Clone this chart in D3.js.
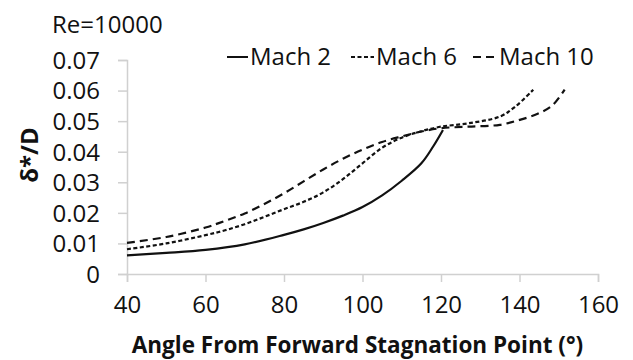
<!DOCTYPE html>
<html>
<head>
<meta charset="utf-8">
<script src="https://cdn.jsdelivr.net/npm/d3@7"></script>
<style>
  body { margin: 0; background: #fff; }
  svg text { font-family: "Open Sans", "DejaVu Sans", sans-serif; fill: #111; }
</style>
</head>
<body>
<svg id="chart" width="633" height="360"></svg>
<script>
// --- Data ---
const seriesNames = ["Mach 2", "Mach 6", "Mach 10"];

const mach2Angle = [40, 50, 60, 70, 80, 85, 90, 95, 100, 105, 110, 115, 118, 120.5];
const mach2Value = [0.0061, 0.0069, 0.0079, 0.0097, 0.0128, 0.0146, 0.0167, 0.0191, 0.0219, 0.0257, 0.0305, 0.0362, 0.0417, 0.0471];

const mach6Angle = [40, 50, 60, 65, 70, 75, 80, 85, 90, 95, 100, 105, 110, 115, 120, 127, 135, 139, 143.5];
const mach6Value = [0.0081, 0.0100, 0.0127, 0.0143, 0.0163, 0.0187, 0.0212, 0.0236, 0.0267, 0.0310, 0.0362, 0.0413, 0.0446, 0.0467, 0.0482, 0.0493, 0.0515, 0.0548, 0.0603];

const mach10Angle = [40, 50, 60, 65, 70, 75, 80, 85, 90, 95, 100, 105, 110, 115, 120, 127, 135, 140, 145, 148.5, 151.5];
const mach10Value = [0.0102, 0.0121, 0.0152, 0.0174, 0.0198, 0.0229, 0.0264, 0.0303, 0.0342, 0.0377, 0.0407, 0.0432, 0.0450, 0.0466, 0.0477, 0.0482, 0.0488, 0.0504, 0.0526, 0.0553, 0.0603];

const xTicks = [40, 60, 80, 100, 120, 140, 160];
const yTicks = [0, 0.01, 0.02, 0.03, 0.04, 0.05, 0.06, 0.07];

// --- Layout ---
const width = 633, height = 360;
const margin = { top: 60, right: 35, bottom: 86, left: 127 };
const innerW = width - margin.left - margin.right;
const innerH = height - margin.top - margin.bottom;

const svg = d3.select('#chart');
const g = svg.append('g').attr('transform', `translate(${margin.left},${margin.top})`);

const x = d3.scaleLinear().domain([40, 160]).range([0, innerW]);
const y = d3.scaleLinear().domain([0, 0.07]).range([innerH, 0]);

const axisColor = '#d0d0d0';

// Axes
const xAxis = g.append('g')
    .attr('transform', `translate(0,${innerH})`)
    .call(d3.axisBottom(x).tickValues(xTicks).tickSize(8).tickPadding(14).tickFormat(d3.format('d')));
const yAxis = g.append('g')
    .call(d3.axisLeft(y).tickValues(yTicks).tickSize(9).tickPadding(18)
        .tickFormat(d => d === 0 ? '0' : d3.format('.2f')(d)));

[xAxis, yAxis].forEach(a => {
    a.select('.domain').attr('stroke', axisColor).attr('stroke-width', 1.5);
    a.selectAll('.tick line').attr('stroke', axisColor).attr('stroke-width', 1.5);
    a.selectAll('.tick text')
        .style('font-family', '"Open Sans", sans-serif')
        .style('font-size', '24px')
        .attr('fill', '#111');
});
yAxis.selectAll('.tick text').attr('dy', '0.35em');
xAxis.selectAll('.tick text').attr('dy', '0.71em');

// Series
const series = [
    { name: seriesNames[0], angle: mach2Angle, value: mach2Value, dash: null },
    { name: seriesNames[1], angle: mach6Angle, value: mach6Value, dash: '4,2.5' },
    { name: seriesNames[2], angle: mach10Angle, value: mach10Value, dash: '8,5' }
];

const line = d3.line()
    .x(d => x(d[0]))
    .y(d => y(d[1]))
    .curve(d3.curveCatmullRom.alpha(0.5));

series.forEach(s => {
    const pts = s.angle.map((a, i) => [a, s.value[i]]);
    g.append('path')
        .datum(pts)
        .attr('fill', 'none')
        .attr('stroke', '#111')
        .attr('stroke-width', 2.2)
        .attr('stroke-dasharray', s.dash)
        .attr('d', line);
});

// Legend
const legendItems = [
    { x0: 227, x1: 248, tx: 250 },
    { x0: 351, x1: 374, tx: 376 },
    { x0: 473, x1: 498, tx: 499 }
];
const legendY = 57;
series.forEach((s, i) => {
    const L = legendItems[i];
    svg.append('line')
        .attr('x1', L.x0).attr('x2', L.x1)
        .attr('y1', legendY).attr('y2', legendY)
        .attr('stroke', '#111').attr('stroke-width', 2)
        .attr('stroke-dasharray', s.dash);
    svg.append('text')
        .attr('x', L.tx).attr('y', legendY)
        .attr('dy', '0.35em')
        .style('font-size', '24px')
        .text(s.name);
});

// Title-ish text and axis labels
svg.append('text')
    .attr('x', 52).attr('y', 25)
    .attr('dy', '0.35em')
    .style('font-size', '24px')
    .text('Re=10000');

svg.append('text')
    .attr('x', margin.left + innerW / 2 - 5)
    .attr('y', 353)
    .attr('text-anchor', 'middle')
    .style('font-size', '22.5px')
    .style('font-weight', 'bold')
    .text('Angle From Forward Stagnation Point (°)');

svg.append('text')
    .attr('transform', 'translate(30,155) rotate(-90)')
    .attr('text-anchor', 'middle')
    .attr('dy', '0.35em')
    .style('font-size', '24px')
    .style('font-weight', 'bold')
    .text('δ*/D');
</script>
</body>
</html>
